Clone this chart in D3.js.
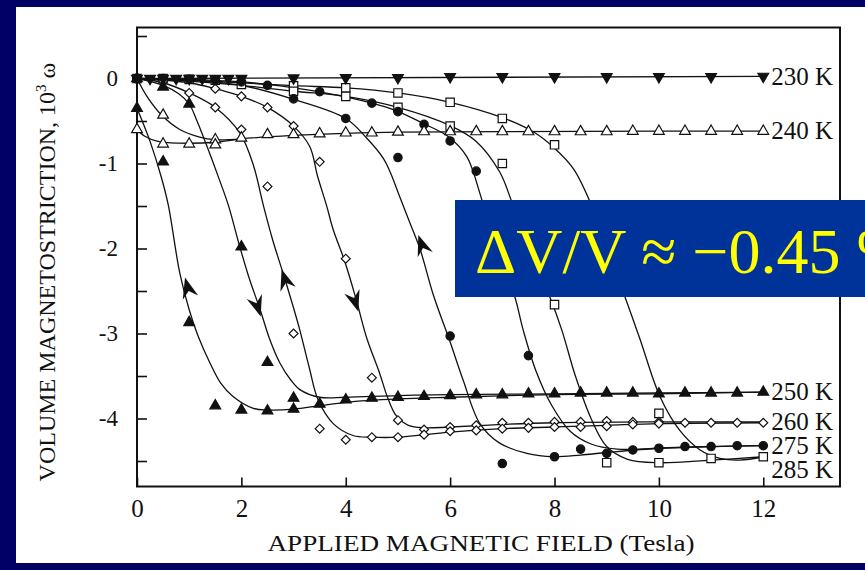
<!DOCTYPE html>
<html>
<head>
<meta charset="utf-8">
<script src="https://cdn.jsdelivr.net/npm/d3@7"></script>
<style>
  html, body { margin: 0; padding: 0; background: #000066; }
  svg { display: block; }
  text { font-family: "Liberation Serif", "Times New Roman", serif; }
</style>
</head>
<body>
<svg id="chart" width="865" height="570"></svg>
<script>
// ---- axis ticks ----
const fieldTicks = [0, 2, 4, 6, 8, 10, 12];
const strainTicks = [0.5, 0, -0.5, -1, -1.5, -2, -2.5, -3, -3.5, -4, -4.5];
const strainLabelled = [0, -1, -2, -3, -4];

// ---- temperature labels and the level each one sits at ----
const tempLabels = ["230 K", "240 K", "250 K", "260 K", "275 K", "285 K"];
const tempLabelLevels = [0.03, -0.61, -3.68, -4.03, -4.32, -4.6];

// ---- measured points: [field (T), magnetostriction (10^-3)] ----
const pts230 = [[0,0],[0.25,0],[0.5,0],[0.75,0],[1,0],[1.25,0],[1.5,0],[1.75,0],[2,0],
  [3,0.005],[4,0.01],[5,0.01],[6,0.02],[7,0.02],[8,0.02],[9,0.02],[10,0.02],[11,0.02],[12,0.025]];
const pts240 = [[0,-0.6],[0.5,-0.43],[0.5,-0.77],[1,-0.77],[1.5,-0.72],[1.5,-0.78],[2,-0.70],
  [2.5,-0.66],[3,-0.66],[3.5,-0.65],[4,-0.64],[4.5,-0.64],[5,-0.63],[5.5,-0.625],[6,-0.625],
  [6.5,-0.625],[7,-0.625],[7.5,-0.625],[8,-0.625],[8.5,-0.625],[9,-0.625],[9.5,-0.62],[10,-0.62],
  [10.5,-0.62],[11,-0.62],[11.5,-0.62],[12,-0.62]];
const pts250 = [[0,0],[0,-0.35],[0.5,-0.1],[0.5,-0.98],[1,-0.3],[1,-2.87],[1.5,-3.85],[2,-1.98],
  [2,-3.9],[2.5,-3.34],[2.5,-3.91],[3,-3.76],[3,-3.89],[3.5,-3.83],[4,-3.78],[4.5,-3.76],[5,-3.75],
  [5.5,-3.74],[6,-3.73],[6.5,-3.72],[7,-3.72],[7.5,-3.71],[8,-3.71],[8.5,-3.70],[9,-3.70],
  [9.5,-3.70],[10,-3.71],[10.5,-3.70],[11,-3.70],[11.5,-3.70],[12,-3.69]];
const pts260 = [[0,0],[0.5,-0.03],[1,-0.17],[1.5,-0.12],[1.5,-0.34],[2,-0.21],[2,-0.6],[2.5,-0.34],
  [2.5,-1.27],[3,-0.56],[3,-3.0],[3.5,-0.98],[3.5,-4.12],[4,-2.12],[4,-4.25],[4.5,-3.52],[4.5,-4.22],
  [5,-4.02],[5,-4.22],[5.5,-4.13],[5.5,-4.19],[6,-4.10],[6,-4.15],[6.5,-4.08],[6.5,-4.14],[7,-4.05],
  [7,-4.12],[7.5,-4.05],[7.5,-4.11],[8,-4.04],[8,-4.10],[8.5,-4.04],[8.5,-4.10],[9,-4.03],[9,-4.09],
  [9.5,-4.04],[9.5,-4.07],[10,-4.04],[10,-4.06],[10.5,-4.05],[11,-4.05],[11.5,-4.05],[12,-4.05]];
const pts275 = [[0,0],[0.5,0],[1,-0.01],[1.5,-0.02],[2,-0.04],[2.5,-0.08],[3,-0.24],[3.5,-0.155],
  [4,-0.47],[4.5,-0.29],[5,-0.39],[5,-0.93],[5.5,-0.54],[6,-0.735],[6,-3.03],[6.5,-1.09],[7,-4.53],
  [7.5,-3.26],[8,-4.45],[8.5,-4.36],[9,-4.41],[9.5,-4.37],[10,-4.35],[10.5,-4.33],[11,-4.33],
  [11.5,-4.32],[12,-4.32]];
const pts285 = [[0,0],[0.5,0],[1,-0.01],[1.5,-0.02],[2,-0.07],[3,-0.085],[3,-0.15],[4,-0.11],
  [4,-0.21],[5,-0.17],[5,-0.34],[6,-0.28],[6,-0.56],[7,-0.47],[7,-1.0],[8,-0.78],[8,-2.66],
  [9,-4.52],[10,-3.94],[10,-4.52],[11,-4.47],[12,-4.45]];

// ---- fitted curves, one per field sweep ----
const fit230 = [[0,0],[12,0.025]];
const fit240a = [[0,0],[0.2,-0.22],[0.47,-0.43],[0.82,-0.6],[1.2,-0.69],[1.5,-0.72],[2,-0.71]];
const fit240b = [[0,-0.6],[0.15,-0.68],[0.4,-0.74],[0.8,-0.76],[1.5,-0.75],[2,-0.71],[3,-0.67],
  [4,-0.645],[5,-0.63],[7,-0.625],[10,-0.62],[12,-0.62]];
const fit250up = [[0,0],[0.5,-0.08],[0.8,-0.18],[1,-0.3],[1.15,-0.5],[1.33,-0.78],[1.59,-1.21],
  [1.75,-1.49],[1.97,-1.98],[2.15,-2.35],[2.36,-2.72],[2.55,-3.08],[2.74,-3.35],[2.95,-3.55],
  [3.12,-3.66],[3.5,-3.75],[4,-3.75],[5,-3.73],[6,-3.72],[8,-3.71],[10,-3.70],[12,-3.69]];
const fit250down = [[0,-0.35],[0.25,-0.74],[0.47,-1.17],[0.6,-1.49],[0.82,-2.29],[1.0,-2.72],
  [1.17,-3.03],[1.4,-3.35],[1.6,-3.58],[1.84,-3.74],[2.23,-3.88],[2.5,-3.9],[3,-3.89],[3.5,-3.85],
  [4,-3.81],[5,-3.77],[6,-3.75],[8,-3.72],[10,-3.71],[12,-3.69]];
const fit260up = [[0,0],[1,-0.05],[1.5,-0.12],[2,-0.21],[2.5,-0.34],[3,-0.56],[3.31,-0.8],
  [3.46,-1.15],[3.63,-1.49],[3.76,-1.78],[3.98,-2.15],[4.2,-2.6],[4.4,-3.05],[4.65,-3.47],
  [4.8,-3.75],[4.97,-3.97],[5.2,-4.08],[5.5,-4.11],[6,-4.1],[7,-4.07],[8,-4.05],[10,-4.04],[12,-4.04]];
const fit260down = [[0,0],[0.5,-0.05],[1,-0.17],[1.5,-0.34],[1.97,-0.64],[2.23,-1.02],[2.42,-1.49],
  [2.6,-1.9],[2.84,-2.37],[3.0,-2.7],[3.12,-2.96],[3.3,-3.4],[3.47,-3.78],[3.76,-4.06],[4.14,-4.2],
  [4.5,-4.22],[5,-4.22],[5.5,-4.19],[6,-4.16],[7,-4.12],[8,-4.1],[9,-4.08],[10,-4.06],[12,-4.05]];
const fit275up = [[0,0],[1,-0.01],[2,-0.04],[2.5,-0.07],[3.47,-0.155],[4.5,-0.29],[4.97,-0.38],
  [5.49,-0.53],[5.98,-0.69],[6.32,-0.92],[6.6,-1.41],[6.9,-2.0],[7.24,-2.57],[7.4,-2.96],
  [7.65,-3.45],[7.95,-3.85],[8.3,-4.15],[8.7,-4.3],[9.2,-4.36],[10,-4.35],[11,-4.33],[12,-4.32]];
const fit275down = [[0,0],[1,-0.02],[2,-0.08],[3,-0.245],[4,-0.47],[4.4,-0.7],[4.72,-0.94],
  [4.85,-1.1],[5.04,-1.4],[5.23,-1.7],[5.42,-2.0],[5.68,-2.55],[6.0,-3.1],[6.25,-3.55],[6.57,-4.06],
  [6.95,-4.29],[7.47,-4.41],[7.98,-4.45],[8.5,-4.43],[9,-4.4],[10,-4.35],[11,-4.33],[12,-4.32]];
const fit285up = [[0,0],[1,-0.02],[2,-0.05],[3,-0.085],[4,-0.11],[5,-0.17],[6,-0.28],[7,-0.46],
  [7.6,-0.63],[8.0,-0.82],[8.36,-1.06],[8.68,-1.45],[9.0,-2.0],[9.35,-2.57],[9.64,-3.07],
  [10.02,-3.74],[10.4,-4.14],[10.79,-4.37],[11.17,-4.47],[11.55,-4.49],[12,-4.45]];
const fit285down = [[0,0],[1,-0.03],[2,-0.08],[3,-0.15],[4,-0.21],[5,-0.34],[6,-0.555],[6.5,-0.74],
  [6.95,-1.1],[7.18,-1.45],[7.5,-2.0],[7.91,-2.57],[8.14,-2.96],[8.4,-3.5],[8.7,-4.0],[9.0,-4.33],
  [9.4,-4.48],[10,-4.52],[11,-4.49],[12,-4.45]];

// ---- sweep-direction arrows: [tail, tip] in data units ----
const sweepArrows = [
  [[1.03,-2.59],[0.92,-2.34]],
  [[2.24,-2.55],[2.37,-2.80]],
  [[2.90,-2.49],[2.77,-2.245]],
  [[4.11,-2.49],[4.24,-2.74]],
  [[5.55,-2.12],[5.39,-1.84]]
];

const annotation = "\u0394V/V \u2248 \u22120.45 %";

// ---------------------------------------------------------------
const svg = d3.select("#chart");

// white page panel
svg.append("rect").attr("x", 16).attr("y", 7).attr("width", 849).attr("height", 556)
  .attr("fill", "#ffffff");

const x = d3.scaleLinear().domain([0, 13.47]).range([137, 840]);
const y = d3.scaleLinear().domain([0.6, -4.8]).range([27.5, 486.5]);

const ink = "#111";

// frame
svg.append("rect")
  .attr("x", x(0)).attr("y", y(0.6))
  .attr("width", x(13.47) - x(0)).attr("height", y(-4.8) - y(0.6))
  .attr("fill", "none").attr("stroke", ink).attr("stroke-width", 2);

// bottom axis, ticks pointing inward
const gx = svg.append("g").attr("transform", `translate(0,${y(-4.8)})`)
  .call(d3.axisBottom(x).tickValues(fieldTicks).tickSize(-9).tickPadding(13)
    .tickFormat(d3.format("d")));
gx.select(".domain").remove();
gx.selectAll(".tick line").attr("stroke", ink).attr("stroke-width", 1.6);
gx.selectAll(".tick text").attr("font-size", 25).attr("fill", ink)
  .attr("font-family", "'Liberation Serif', serif");

// left axis, ticks pointing inward
const gy = svg.append("g").attr("transform", `translate(${x(0)},0)`)
  .call(d3.axisLeft(y).tickValues(strainTicks).tickSize(-10).tickPadding(19)
    .tickFormat(d => strainLabelled.includes(d) ? String(d) : ""));
gy.select(".domain").remove();
gy.selectAll(".tick line").attr("stroke", ink).attr("stroke-width", 1.6);
gy.selectAll(".tick text").attr("font-size", 23).attr("fill", ink)
  .attr("font-family", "'Liberation Serif', serif");

// axis titles
svg.append("text")
  .attr("x", 481).attr("y", 551)
  .attr("text-anchor", "middle")
  .attr("font-size", 24).attr("fill", ink)
  .attr("textLength", 427).attr("lengthAdjust", "spacingAndGlyphs")
  .text("APPLIED MAGNETIC FIELD (Tesla)");

const yt = svg.append("text")
  .attr("transform", "translate(55,272) rotate(-90)")
  .attr("text-anchor", "middle")
  .attr("font-size", 24).attr("fill", ink);
yt.append("tspan").text("VOLUME MAGNETOSTRICTION, 10");
yt.append("tspan").attr("font-size", 15).attr("dy", -9).text("3");
yt.append("tspan").attr("dy", 9).text(" \u03c9");

// fitted curves
const line = d3.line().x(d => x(d[0])).y(d => y(d[1])).curve(d3.curveCatmullRom.alpha(0.5));
const fits = [fit230, fit240a, fit240b, fit250up, fit250down, fit260up, fit260down,
  fit275up, fit275down, fit285up, fit285down];
svg.append("g").selectAll("path").data(fits).join("path")
  .attr("d", line).attr("fill", "none").attr("stroke", ink).attr("stroke-width", 1.3);

// sweep arrows
const arrowHead = "M0,0 L-21,-8 L-14,0 L-21,8 Z";
svg.append("g").selectAll("path").data(sweepArrows).join("path")
  .attr("d", arrowHead)
  .attr("transform", d => {
    const ang = Math.atan2(y(d[1][1]) - y(d[0][1]), x(d[1][0]) - x(d[0][0])) * 180 / Math.PI;
    return `translate(${x(d[1][0])},${y(d[1][1])}) rotate(${ang})`;
  })
  .attr("fill", ink);

// markers
function drawMarkers(data, symbolType, size, filled, rotate) {
  const sym = d3.symbol().type(symbolType).size(size);
  svg.append("g").selectAll("path").data(data).join("path")
    .attr("d", sym)
    .attr("transform", d => `translate(${x(d[0])},${y(d[1])})` + (rotate ? ` rotate(${rotate})` : ""))
    .attr("fill", filled ? ink : "#fff")
    .attr("stroke", ink).attr("stroke-width", 1.2);
}
drawMarkers(pts285, d3.symbolSquare, 70, false, 0);
drawMarkers(pts275, d3.symbolCircle, 55, true, 0);
drawMarkers(pts260, d3.symbolSquare, 40, false, 45);
drawMarkers(pts240, d3.symbolTriangle, 50, false, 0);
drawMarkers(pts250, d3.symbolTriangle, 50, true, 0);
drawMarkers(pts230, d3.symbolTriangle, 50, true, 180);

// temperature labels
svg.append("g").selectAll("text").data(tempLabels).join("text")
  .attr("x", x(12) + 8)
  .attr("y", (d, i) => y(tempLabelLevels[i]))
  .attr("dy", "0.35em")
  .attr("font-size", 25).attr("fill", ink)
  .text(d => d);

// annotation box
svg.append("rect").attr("x", 455).attr("y", 200).attr("width", 420).attr("height", 97)
  .attr("fill", "#003399");
svg.append("text").attr("x", 475).attr("y", 273)
  .attr("font-size", 64).attr("fill", "#ffff00")
  .text(annotation);
</script>
</body>
</html>
